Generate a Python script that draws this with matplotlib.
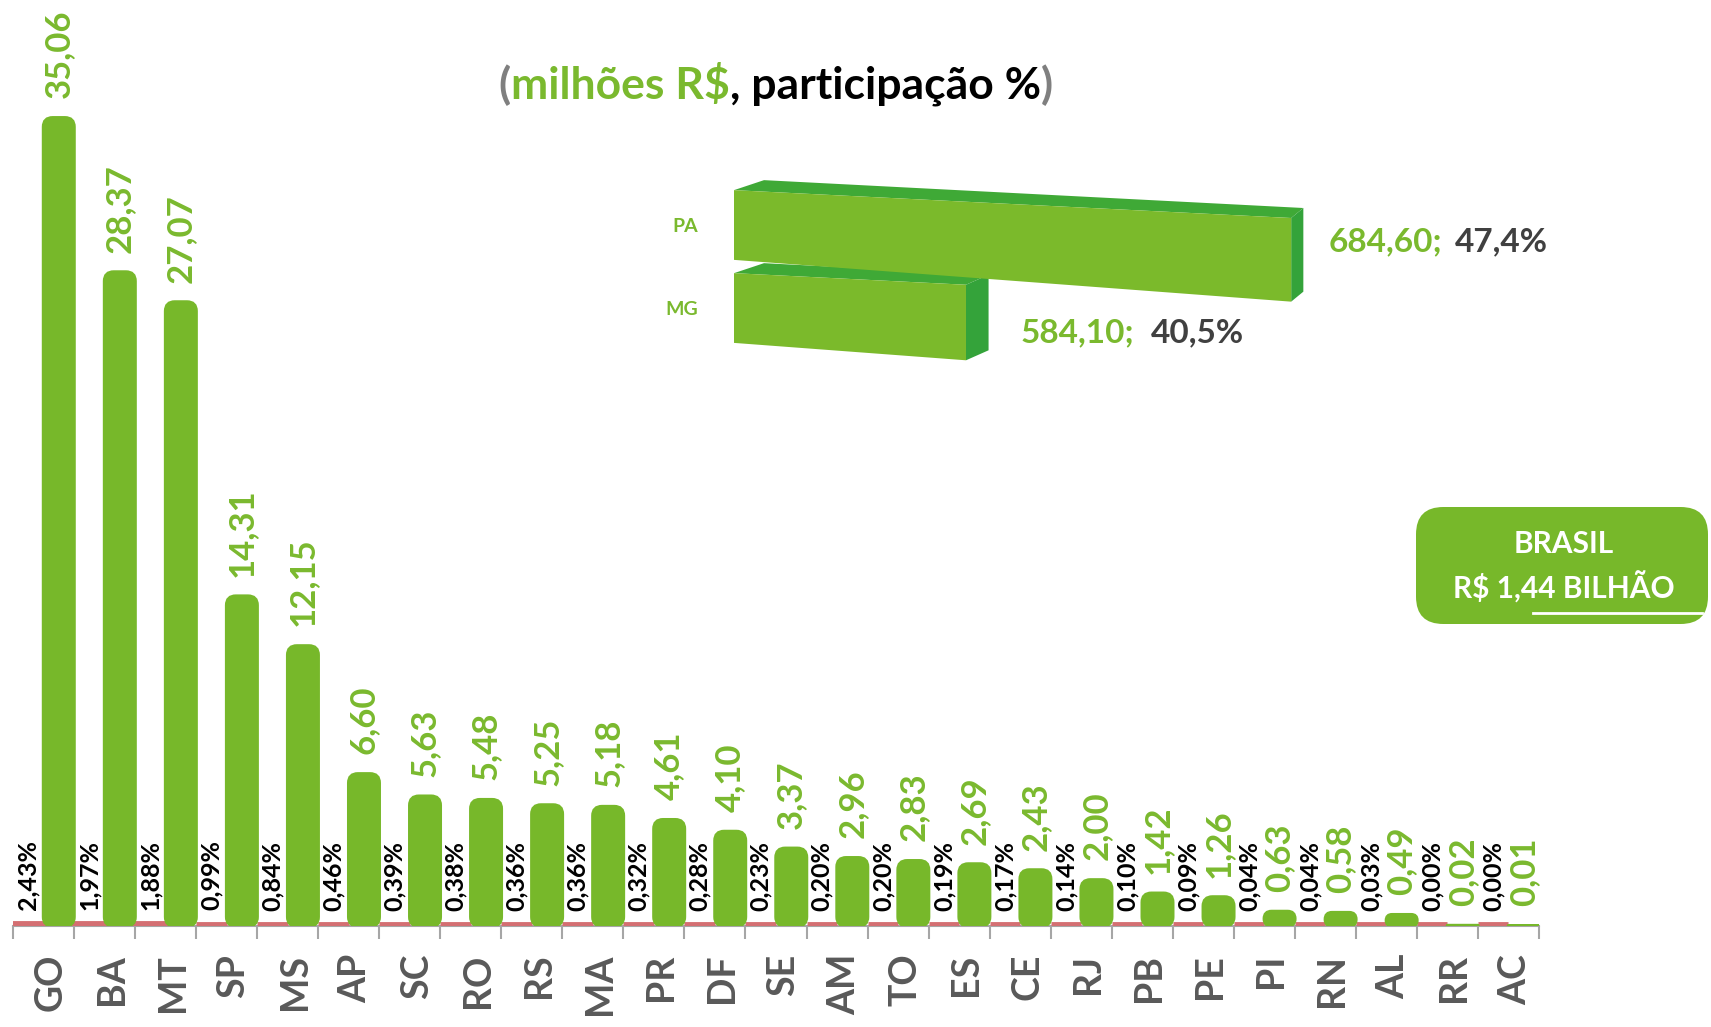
import matplotlib
matplotlib.use("Agg")
import matplotlib.pyplot as plt
import matplotlib.transforms as mtransforms
from matplotlib.patches import FancyBboxPatch, Polygon
from matplotlib.offsetbox import TextArea, HPacker, AnnotationBbox
from matplotlib.lines import Line2D
import numpy as np

# ---------------- data ----------------
states = ["GO", "BA", "MT", "SP", "MS", "AP", "SC", "RO", "RS", "MA", "PR", "DF", "SE",
          "AM", "TO", "ES", "CE", "RJ", "PB", "PE", "PI", "RN", "AL", "RR", "AC"]
values = [35.06, 28.37, 27.07, 14.31, 12.15, 6.60, 5.63, 5.48, 5.25, 5.18, 4.61, 4.10, 3.37,
          2.96, 2.83, 2.69, 2.43, 2.00, 1.42, 1.26, 0.63, 0.58, 0.49, 0.02, 0.01]
shares = [2.43, 1.97, 1.88, 0.99, 0.84, 0.46, 0.39, 0.38, 0.36, 0.36, 0.32, 0.28, 0.23,
          0.20, 0.20, 0.19, 0.17, 0.14, 0.10, 0.09, 0.04, 0.04, 0.03, 0.00, 0.00]
top_states = ["PA", "MG"]
top_values = [684.60, 584.10]
top_shares = [47.4, 40.5]
total_title = "BRASIL"
total_label = "R$ 1,44 BILHÃO"

# ---------------- style ----------------
W, H = 1711, 1027
GREEN = "#77B82A"
GREEN_TXT = "#7AB92E"
RED = "#D46F72"
GRAY_AX = "#A6A6A6"
GRAY_LBL = "#595959"
FONT = "Lato"

plt.rcParams["font.family"] = [FONT, "DejaVu Sans"]


def fmt(v, d=2):
    return f"{v:.{d}f}".replace(".", ",")


fig = plt.figure(figsize=(W / 100, H / 100), dpi=100)
fig.patch.set_facecolor("white")

# ---------------- main chart ----------------
ax = fig.add_axes([13 / W, 101 / H, 1526 / W, 926 / H])
x = np.arange(len(states))
ax.set_xlim(-0.5, len(states) - 0.5)
ax.set_ylim(0, 40.17)

# share series (tiny red bars, drawn as thin strips on the baseline)
red_bars = ax.bar(x - 0.25, np.array(shares) / 100, width=0.5, color=RED, edgecolor=RED,
                  linewidth=3.5, zorder=3)
lift = mtransforms.ScaledTranslation(0, 1.5 / 72, fig.dpi_scale_trans)
for rb in red_bars:
    rb.set_transform(ax.transData + lift)

# value series (green, rounded)
bars = ax.bar(x + 0.25, values, width=0.5, color=GREEN, zorder=3)
aspect = (1526 / 25) / (926 / 40.17)
for rect in bars:
    x0, y0 = rect.get_xy()
    w, h = rect.get_width(), rect.get_height()
    rect.set_visible(False)
    r = min(0.15, w / 2, h / aspect / 2)
    p = FancyBboxPatch((x0, y0), w, h,
                       boxstyle=f"round,pad=0,rounding_size={max(r, 1e-6)}",
                       mutation_aspect=aspect, facecolor=GREEN, edgecolor=GREEN,
                       linewidth=2.5, zorder=3.5)
    ax.add_patch(p)

for i, (v, s) in enumerate(zip(values, shares)):
    ax.annotate(fmt(v), xy=(i + 0.25, v), xytext=(0, 14), textcoords="offset points",
                rotation=90, ha="center", va="bottom", fontsize=25,
                fontweight="bold", color=GREEN_TXT, zorder=4)
    ax.annotate(fmt(s) + "%", xy=(i - 0.25, s / 100), xytext=(0, 11),
                textcoords="offset points", rotation=90, ha="center", va="bottom",
                fontsize=18, fontweight="bold", color="black", zorder=4)

for sp in ["top", "right", "left"]:
    ax.spines[sp].set_visible(False)
ax.spines["bottom"].set_color(GRAY_AX)
ax.spines["bottom"].set_linewidth(1.5)
ax.set_yticks([])
ax.set_xticks(np.arange(-0.5, len(states), 1.0))
ax.set_xticklabels([])
ax.tick_params(axis="x", which="major", length=9, width=1.5, color=GRAY_AX)
ax.set_xticks(x, labels=states, minor=True, rotation=90, fontsize=27,
              fontweight="bold", color=GRAY_LBL)
ax.tick_params(axis="x", which="minor", length=0, pad=20)
shift = mtransforms.ScaledTranslation(5 / 72, 0, fig.dpi_scale_trans)
for t in ax.get_xticklabels(minor=True):
    t.set_transform(t.get_transform() + shift)
ax.set_facecolor("none")

# ---------------- title ----------------
tp = dict(fontsize=32, fontweight="bold", family=FONT)
parts = [TextArea("(", textprops=dict(color="#7F7F7F", **tp)),
         TextArea("milhões R$", textprops=dict(color=GREEN_TXT, **tp)),
         TextArea(", participação %", textprops=dict(color="black", **tp)),
         TextArea(")", textprops=dict(color="#7F7F7F", **tp))]
box = HPacker(children=parts, align="baseline", pad=0, sep=0)
ab = AnnotationBbox(box, (776 / W, 1 - 85 / H), xycoords="figure fraction",
                    box_alignment=(0.5, 0.5), frameon=False, pad=0,
                    annotation_clip=False)
ax.add_artist(ab)

# ---------------- inset 3D-like horizontal bars ----------------
X0 = 512.4
XMAX = 700.0
ax2 = fig.add_axes([734 / W, 1 - 380 / H, (1341 - 734) / W, 220 / H])
ax2.set_xlim(X0, XMAX)
ax2.set_ylim(1.867, -0.783)
ax2.set_facecolor("none")
for sp in ax2.spines.values():
    sp.set_visible(False)
ax2.set_xticks([])
ax2.set_yticks(range(len(top_states)), labels=top_states)
ax2.tick_params(axis="y", length=0, pad=26, labelsize=14, labelcolor=GREEN_TXT)
for t in ax2.get_yticklabels():
    t.set_fontweight("bold")

px_x = (1341 - 734) / (XMAX - X0)   # pixels per x unit
px_y = 220 / 2.65                    # pixels per y unit
a_top = 0.05 * px_x / px_y
a_bot = 0.075 * px_x / px_y
half_h = 0.42
dy = -10 / px_y

FRONT = "#7BBA2B"
TOPC = "#3FA936"
CAP = "#34A33A"


def depth_dx(xv):
    return (30 - 0.032 * (xv - X0) * px_x) / px_x


for i, v in enumerate(top_values):
    tl = (X0, i - half_h)
    tr = (v, i - half_h + a_top * (v - X0))
    br = (v, i + half_h + a_bot * (v - X0))
    bl = (X0, i + half_h)
    btl = (X0 + depth_dx(X0), tl[1] + dy)
    btr = (v + depth_dx(v), tr[1] + dy)
    bbr = (v + depth_dx(v), br[1] + dy)
    ax2.add_patch(Polygon([tl, tr, btr, btl], closed=True, facecolor=TOPC,
                          edgecolor="none", clip_on=False, zorder=2))
    ax2.add_patch(Polygon([tr, btr, bbr, br], closed=True, facecolor=CAP,
                          edgecolor="none", clip_on=False, zorder=2))
    ax2.add_patch(Polygon([tl, tr, br, bl], closed=True, facecolor=FRONT,
                          edgecolor="none", clip_on=False, zorder=3))

label_offsets = [(27, -12), (39, -18)]
label_seps = [9, 12]
lp = dict(fontsize=24, fontweight="bold", family=FONT)
for i, (v, s) in enumerate(zip(top_values, top_shares)):
    hb = HPacker(children=[TextArea(fmt(v) + ";", textprops=dict(color=GREEN_TXT, **lp)),
                           TextArea(fmt(s, 1) + "%", textprops=dict(color="#404040", **lp))],
                 align="baseline", pad=0, sep=label_seps[i])
    ab2 = AnnotationBbox(hb, (v, i), xycoords="data", xybox=label_offsets[i],
                         boxcoords="offset points", box_alignment=(0, 0.5),
                         frameon=False, pad=0, annotation_clip=False)
    ax2.add_artist(ab2)

# ---------------- BRASIL total box ----------------
bx0, by0 = 1416 / W, 1 - 624 / H
bw, bh = 292 / W, 117 / H
fig.patches.append(FancyBboxPatch((bx0, by0), bw, bh,
                                  boxstyle="round,pad=0,rounding_size=0.016",
                                  mutation_aspect=W / H, facecolor=GREEN,
                                  edgecolor="none", transform=fig.transFigure,
                                  figure=fig))
fig.text(1564 / W, 1 - 544 / H, total_title, ha="center", va="center",
         fontsize=21.5, fontweight="bold", color="white")
fig.text(1564 / W, 1 - 587 / H, total_label, ha="center", va="center",
         fontsize=21.5, fontweight="bold", color="white")
fig.add_artist(Line2D([1533 / W, 1702 / W], [1 - 613 / H, 1 - 613 / H],
                      transform=fig.transFigure, color="white", linewidth=2))

fig.savefig("out.png", dpi=100, facecolor="white")
